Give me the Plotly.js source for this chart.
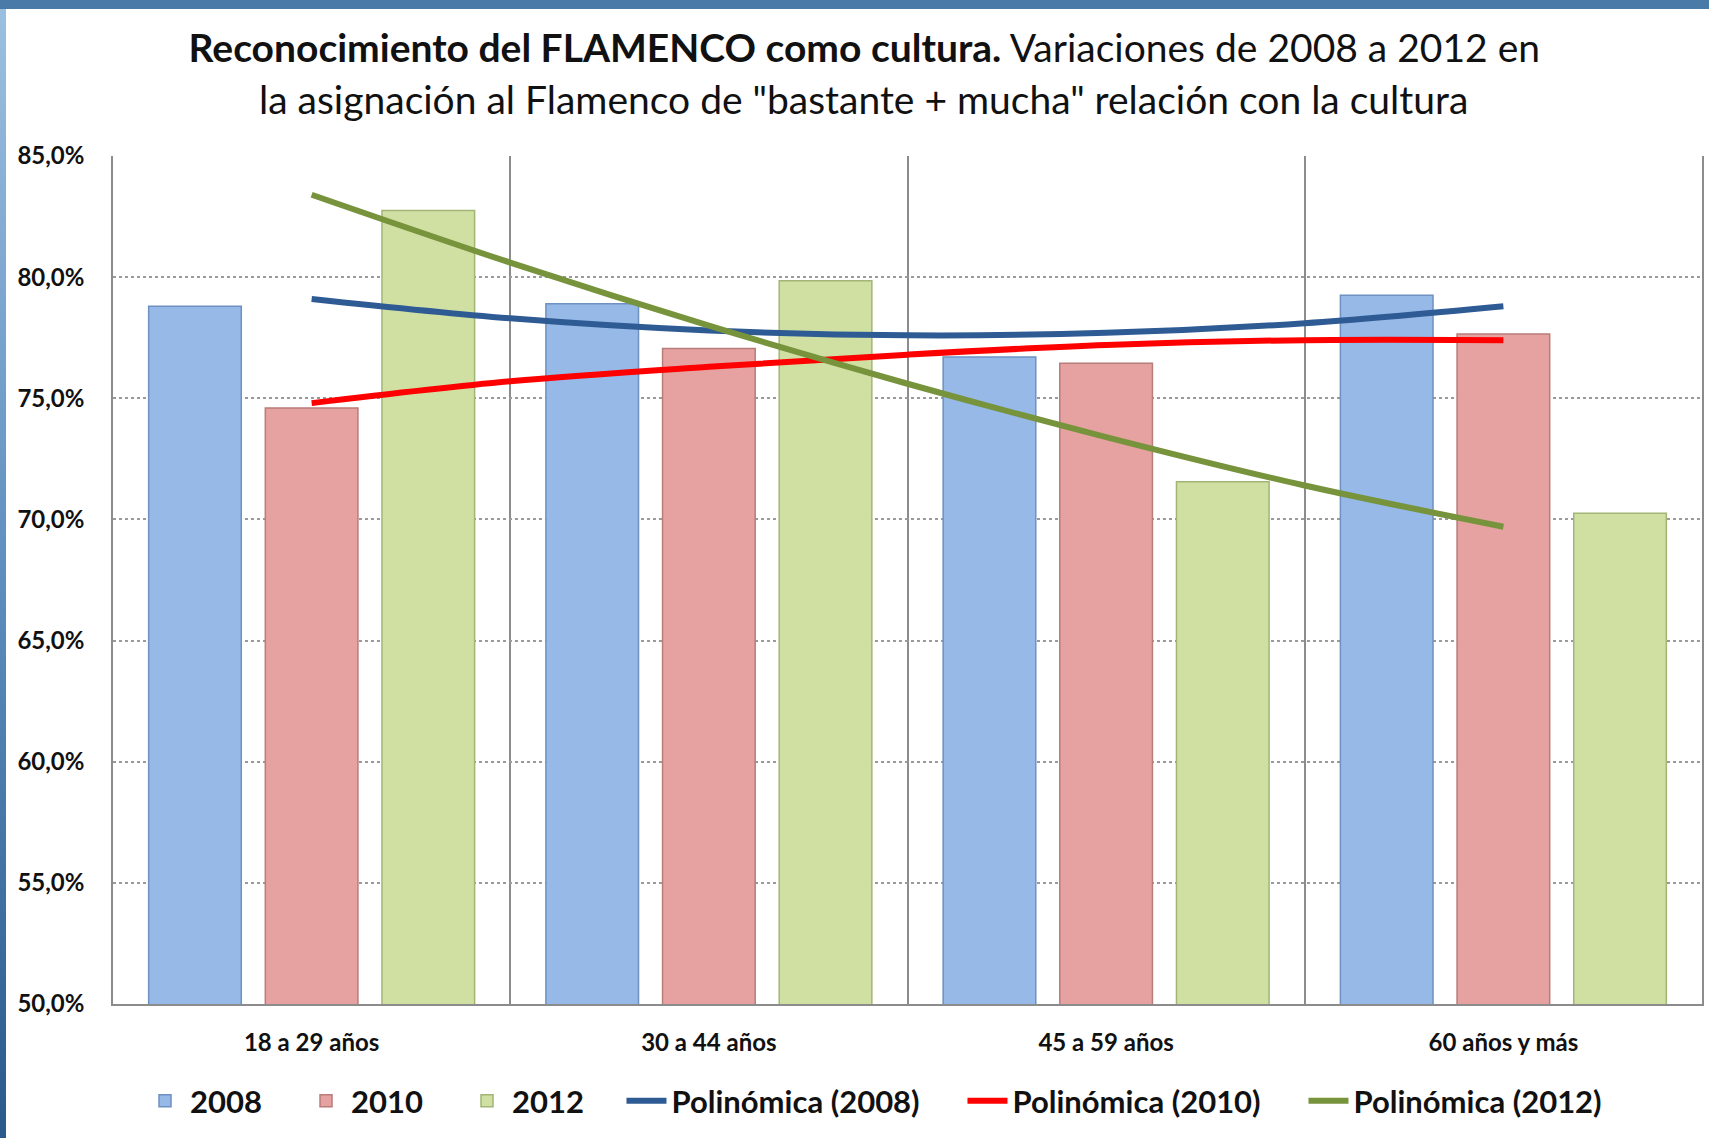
<!DOCTYPE html>
<html>
<head>
<meta charset="utf-8">
<script src="https://cdn.plot.ly/plotly-3.0.1.min.js"></script>
<style>
  html, body { margin: 0; padding: 0; width: 1709px; height: 1138px; overflow: hidden; }
  body { background: linear-gradient(to bottom, #9cc0e0 0%, #5f8fbf 50%, #2a5a8c 100%); position: relative; }
  #topbar { position: absolute; left: 0; top: 0; width: 1709px; height: 9px; background: #4a7aa8; }
  #chart { position: absolute; left: 6px; top: 9px; width: 1703px; height: 1129px; background: #fff; }
</style>
</head>
<body>
<div id="topbar"></div>
<div id="chart"></div>
<script>
// ---- data ----
const categories = ['18 a 29 años', '30 a 44 años', '45 a 59 años', '60 años y más'];
const seriesNames = ['2008', '2010', '2012'];
const v2008 = [78.8, 78.9, 76.7, 79.25];
const v2010 = [74.6, 77.05, 76.45, 77.65];
const v2012 = [82.75, 79.85, 71.55, 70.25];

// polynomial trend lines (Excel "Polinómica"), read at half-category steps
const trendX = [0, 0.5, 1, 1.5, 2, 2.5, 3];
const trend2008 = [79.1, 78.3, 77.8, 77.6, 77.7, 78.1, 78.8];
const trend2010 = [74.8, 75.7, 76.3, 76.8, 77.2, 77.4, 77.4];
const trend2012 = [83.4, 80.6, 78.0, 75.6, 73.4, 71.4, 69.7];
const trendNames = ['Polinómica (2008)', 'Polinómica (2010)', 'Polinómica (2012)'];

const yTicks = [50, 55, 60, 65, 70, 75, 80, 85];
const yTickText = ['50,0%', '55,0%', '60,0%', '65,0%', '70,0%', '75,0%', '80,0%', '85,0%'];

// ---- styling ----
const FONT = 'Lato, "Open Sans", sans-serif';
const barFill = ['#96b9e8', '#e6a2a0', '#d0e0a3'];
const barLine = ['#6e91c2', '#b87c7b', '#a2b575'];
const trendColors = ['#2f5b94', '#ff0000', '#77933c'];

const catIdx = categories.map((c, i) => i);
const barValues = [v2008, v2010, v2012];
const trendValues = [trend2008, trend2010, trend2012];

const traces = [];
seriesNames.forEach((name, k) => {
  traces.push({
    type: 'bar',
    name: name,
    x: catIdx,
    y: barValues[k],
    marker: { color: barFill[k], line: { color: barLine[k], width: 1.5 } },
    legend: 'legend',
    hoverinfo: 'y+name'
  });
});
trendNames.forEach((name, k) => {
  traces.push({
    type: 'scatter',
    mode: 'lines',
    name: name,
    x: trendX,
    y: trendValues[k],
    line: { color: trendColors[k], width: 6, shape: 'spline', smoothing: 1 },
    legend: 'legend2',
    hoverinfo: 'skip'
  });
});

const legendFont = { family: FONT, size: 31, color: '#111111', weight: 'bold' };
const legendY = (995 - 1092) / 848;

const layout = {
  width: 1703,
  height: 1129,
  paper_bgcolor: '#ffffff',
  plot_bgcolor: '#ffffff',
  margin: { l: 107, r: 7, t: 147, b: 134 },
  font: { family: FONT, color: '#111111' },
  title: {
    text: '<b>Reconocimiento del FLAMENCO como cultura.</b> Variaciones de 2008 a 2012 en',
    font: { family: FONT, size: 39, color: '#111111' },
    x: 0.504, xref: 'container', xanchor: 'center',
    y: 1 - 39 / 1129, yref: 'container', yanchor: 'middle'
  },
  annotations: [{
    text: 'la asignación al Flamenco de "bastante + mucha" relación con la cultura',
    xref: 'paper', yref: 'paper',
    x: 0.4726, y: (995 - 90) / 848,
    xanchor: 'center', yanchor: 'middle',
    showarrow: false,
    font: { family: FONT, size: 39, color: '#111111' }
  }],
  barmode: 'group',
  bargap: 0.119,
  bargroupgap: 0.206,
  xaxis: {
    type: 'linear',
    range: [-0.5, 3.5],
    tickvals: catIdx,
    ticktext: categories,
    ticks: '',
    ticklabelstandoff: 16,
    tickfont: { family: FONT, size: 24, color: '#111111', weight: 'bold' },
    showgrid: false,
    zeroline: false,
    showline: true,
    linecolor: '#8c8c8c',
    linewidth: 1.5,
    minor: { tick0: 0.5, dtick: 1, showgrid: true, gridcolor: '#8c8c8c', gridwidth: 1.5, ticks: '' },
    fixedrange: true
  },
  yaxis: {
    range: [50, 85],
    tickvals: yTicks,
    ticktext: yTickText,
    ticks: '',
    ticklabelstandoff: 22,
    tickfont: { family: FONT, size: 24, color: '#111111', weight: 'bold' },
    showgrid: true,
    gridcolor: '#9a9a9a',
    griddash: 'dot',
    gridwidth: 1.5,
    zeroline: false,
    showline: true,
    mirror: true,
    linecolor: '#8c8c8c',
    linewidth: 1.5,
    fixedrange: true
  },
  showlegend: true,
  legend: {
    orientation: 'h',
    x: 0.017, xanchor: 'left',
    y: legendY, yanchor: 'middle',
    font: legendFont,
    traceorder: 'normal',
    itemwidth: 40,
    entrywidth: 106
  },
  legend2: {
    orientation: 'h',
    x: 0.320, xanchor: 'left',
    y: legendY, yanchor: 'middle',
    font: legendFont,
    traceorder: 'normal',
    itemwidth: 40,
    entrywidth: 286
  }
};

Plotly.newPlot('chart', traces, layout, { displayModeBar: false });
</script>
</body>
</html>
